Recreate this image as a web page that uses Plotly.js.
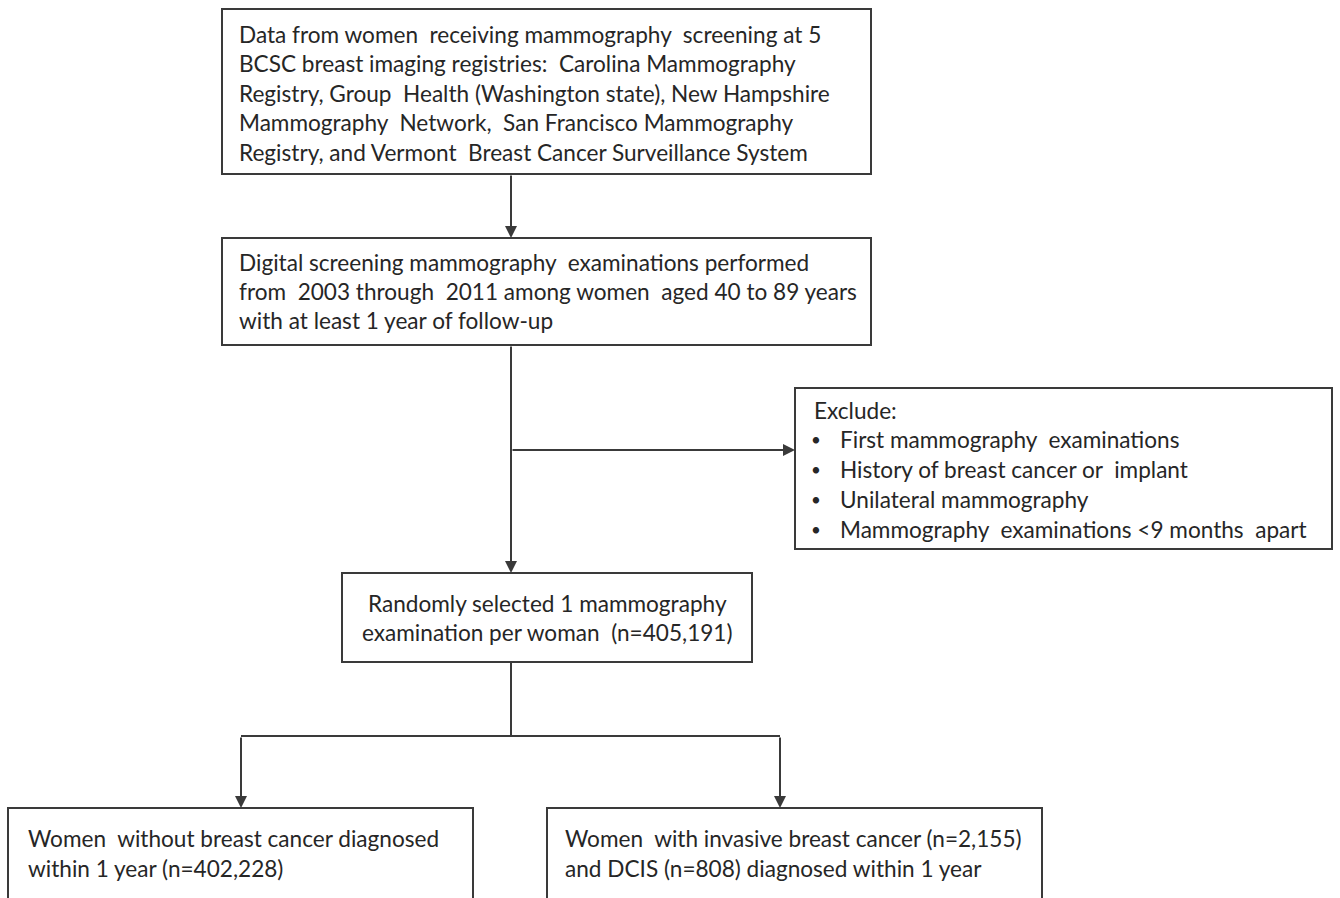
<!DOCTYPE html>
<html>
<head>
<meta charset="utf-8">
<script src="https://cdn.plot.ly/plotly-3.0.1.min.js"></script>
<style>html,body{margin:0;padding:0;background:#fff;}#chart{width:1340px;height:898px;}</style>
</head>
<body>
<div id="chart"></div>
<script>
// ---- Content (text of each flowchart box) ----
const sourceLines = [
  "Data from women  receiving mammography  screening at 5",
  "BCSC breast imaging registries:  Carolina Mammography",
  "Registry, Group  Health (Washington state), New Hampshire",
  "Mammography  Network,  San Francisco Mammography",
  "Registry, and Vermont  Breast Cancer Surveillance System"
];
const examLines = [
  "Digital screening mammography  examinations performed",
  "from  2003 through  2011 among women  aged 40 to 89 years",
  "with at least 1 year of follow-up"
];
const excludeLines = [
  "Exclude:",
  "First mammography  examinations",
  "History of breast cancer or  implant",
  "Unilateral mammography",
  "Mammography  examinations <9 months  apart"
];
const excludeBullets = [false, true, true, true, true];
const selectedLines = [
  "Randomly selected 1 mammography",
  "examination per woman  (n=405,191)"
];
const withoutLines = [
  "Women  without breast cancer diagnosed",
  "within 1 year (n=402,228)"
];
const withLines = [
  "Women  with invasive breast cancer (n=2,155)",
  "and DCIS (n=808) diagnosed within 1 year"
];

// ---- Geometry (pixel-like coordinates on a 1340 x 898 canvas) ----
const boxes = [
  {x0:222, y0:9,   x1:871,  y1:174, lines:sourceLines,   tx:237, ty:34,  dy:29.5, center:false},
  {x0:222, y0:238, x1:871,  y1:345, lines:examLines,     tx:237, ty:262, dy:29.3, center:false},
  {x0:795, y0:388, x1:1332, y1:549, lines:excludeLines,  tx:812, ty:410, dy:29.8, center:false, bullets:excludeBullets, bx:816, btx:838},
  {x0:342, y0:573, x1:752,  y1:662, lines:selectedLines, tx:547, ty:603, dy:29,   center:true},
  {x0:8,   y0:808, x1:473,  y1:905, lines:withoutLines,  tx:26,  ty:838, dy:30,   center:false},
  {x0:547, y0:808, x1:1042, y1:905, lines:withLines,     tx:563, ty:838, dy:30.5, center:false}
];
const spineX = 511;
const branchY = 736;
const leftX = 241, rightX = 780;
const excludeY = 450;

const lineColor = "#3a3a3a";
const textColor = "#262626";
const font = {family: "Lato, 'Open Sans', sans-serif", size: 22.6, color: textColor};
const bulletFont = {family: "Lato, 'Open Sans', sans-serif", size: 17, color: textColor};

const shapes = [];
const annotations = [];

boxes.forEach(b => {
  shapes.push({type:"rect", xref:"x", yref:"y", x0:b.x0, y0:b.y0, x1:b.x1, y1:b.y1,
    line:{color:lineColor, width:2}, fillcolor:"#ffffff", layer:"below"});
  b.lines.forEach((t, i) => {
    const y = b.ty + i * b.dy;
    if (b.bullets && b.bullets[i]) {
      annotations.push({x:b.bx, y:y, xref:"x", yref:"y", text:"•", showarrow:false,
        xanchor:"center", yanchor:"middle", font:bulletFont});
      annotations.push({x:b.btx, y:y, xref:"x", yref:"y", text:t, showarrow:false,
        xanchor:"left", yanchor:"middle", font:font});
    } else {
      annotations.push({x:b.tx, y:y, xref:"x", yref:"y", text:t, showarrow:false,
        xanchor:b.center ? "center" : "left", yanchor:"middle", font:font});
    }
  });
});

// connector lines (no arrowheads)
const seg = (x0,y0,x1,y1) => shapes.push({type:"line", xref:"x", yref:"y", x0, y0, x1, y1,
  line:{color:lineColor, width:2}});
seg(spineX, 662, spineX, branchY);
seg(leftX, branchY, rightX, branchY);

// arrows
const arrow = (xs, ys, xe, ye) => annotations.push({x:xe, y:ye, ax:xs, ay:ys, xref:"x", yref:"y",
  axref:"x", ayref:"y", showarrow:true, arrowhead:2, arrowsize:1.2, arrowwidth:2,
  arrowcolor:lineColor, text:"", standoff:0});
arrow(spineX, 174, spineX, 238);
arrow(spineX, 345, spineX, 573);
arrow(spineX, excludeY, 795, excludeY);
arrow(leftX, branchY, leftX, 808);
arrow(rightX, branchY, rightX, 808);

const layout = {
  width:1340, height:898,
  margin:{l:0, r:0, t:0, b:0},
  paper_bgcolor:"#ffffff", plot_bgcolor:"#ffffff",
  xaxis:{range:[0,1340], visible:false, fixedrange:true},
  yaxis:{range:[898,0], visible:false, fixedrange:true},
  showlegend:false,
  shapes:shapes,
  annotations:annotations
};

Plotly.newPlot("chart", [{x:[], y:[], type:"scatter", mode:"markers", hoverinfo:"skip"}], layout,
  {displayModeBar:false, staticPlot:true});
</script>
</body>
</html>
